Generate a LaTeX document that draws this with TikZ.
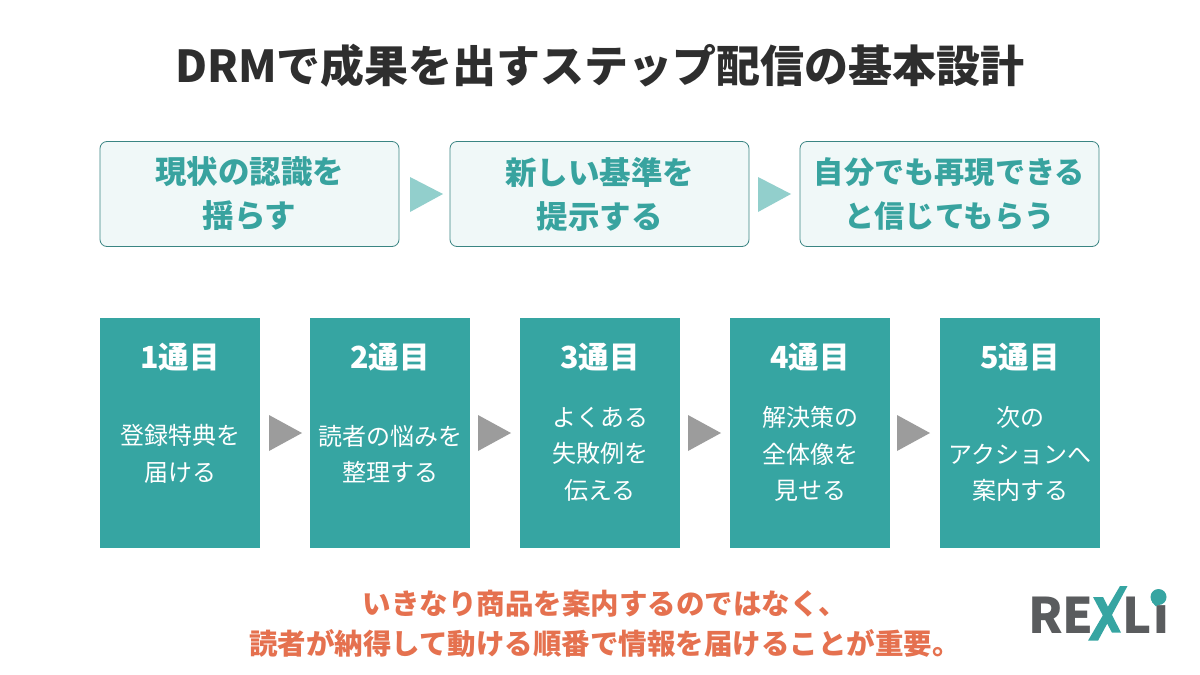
\documentclass[tikz,border=0pt]{standalone}
\usepackage{fontspec}
\setmainfont{Noto Sans CJK JP}
\definecolor{teal1}{HTML}{36A5A2}
\definecolor{tealt}{HTML}{38A39F}
\definecolor{tealb}{HTML}{3A8583}
\definecolor{pale}{HTML}{F0F8F8}
\definecolor{tri1}{HTML}{92CFCC}
\definecolor{tri2}{HTML}{9C9C9C}
\definecolor{ink}{HTML}{2E2E2E}
\definecolor{orng}{HTML}{E5714F}
\definecolor{logog}{HTML}{5A5C5E}
\definecolor{logot}{HTML}{36A5A2}
\tikzset{
 x=1pt,y=-1pt,
 top/.style={draw=tealb,line width=0.8pt,fill=pale,rounded corners=7pt,minimum width=299pt,minimum height=105pt,inner sep=0pt,align=center,text=tealt,font=\fontsize{31.5}{44}\selectfont\bfseries},
 card/.style={fill=teal1,minimum width=160pt,minimum height=230pt,inner sep=0pt},
 cardtitle/.style={text=white,font=\fontsize{30.4}{34}\selectfont\bfseries,inner sep=0pt},
 cardtext/.style={text=white,align=center,inner sep=0pt,font=\fontsize{24}{36.5}\selectfont},
 tria/.style={fill=tri1,draw=none},
 trib/.style={fill=tri2,draw=none},
 note/.style={text=orng,align=center,font=\fontsize{28.5}{39.5}\selectfont\bfseries,inner sep=0pt},
 logotext/.style={text=logog,font=\fontsize{49}{50}\selectfont\bfseries,inner sep=0pt,anchor=base west}
}
\begin{document}
\begin{tikzpicture}
\useasboundingbox (0,0) rectangle (1200,675);
\fill[white] (0,0) rectangle (1200,675);
\node[text=ink,font=\fontsize{44}{50}\selectfont\bfseries,inner sep=0pt] (title) at (600,66) {DRMで成果を出すステップ配信の基本設計};
\node[top] (t1) at (249.5,194) {現状の認識を\\揺らす};
\node[top] (t2) at (599.5,194) {新しい基準を\\提示する};
\node[top,font=\fontsize{30.2}{44}\selectfont\bfseries] (t3) at (949.5,194) {自分でも再現できる\\と信じてもらう};
\fill[tria] (410,177)--(443,194)--(410,212)--cycle;
\fill[tria] (758,177)--(791,194)--(758,212)--cycle;
\foreach \n/\cx in {1/180,2/390,3/600,4/810,5/1020}{
 \node[card] (c\n) at (\cx,433) {};
 \node[cardtitle] (h\n) at (\cx,357) {\n 通目};
}
\node[cardtext] (x1) at (180,454) {登録特典を\\届ける};
\node[cardtext] (x2) at (390,454) {読者の悩みを\\整理する};
\node[cardtext] (x3) at (600,454) {よくある\\失敗例を\\伝える};
\node[cardtext] (x4) at (810,454) {解決策の\\全体像を\\見せる};
\node[cardtext] (x5) at (1020,454) {次の\\アクションへ\\案内する};
\foreach \a in {269,478,688,897}{
 \fill[trib] (\a,415)--(\a+33,433)--(\a,451)--cycle;
}
\node[note] (n) at (605,624) {いきなり商品を案内するのではなく、\\読者が納得して動ける順番で情報を届けることが重要。};
% logo
\node[logotext] (logoa) at (1028,633) {RE};
\node[logotext] (logob) at (1122,633) {L};
\node[logotext] (logoc) at (1153,633) {i};
\fill[logot] (1120,586)--(1127.5,586)--(1098,640.7)--(1088,640.7)--cycle;
\fill[logot] (1093,597)--(1103,597)--(1121,632.7)--(1112,632.7)--cycle;
\fill[logot] (1158.5,597) circle (8);
\fill[logot] (1152,602)--(1156,606.5)--(1160,603)--cycle;
\end{tikzpicture}
\end{document}
